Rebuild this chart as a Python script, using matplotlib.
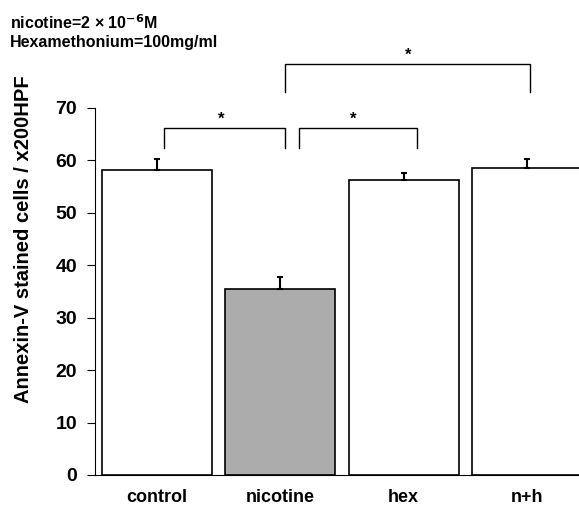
import numpy as np
import matplotlib.pyplot as plt

plt.rcParams['font.family'] = ['Liberation Sans', 'DejaVu Sans']
plt.rcParams['font.weight'] = 'bold'

groups = ['control', 'nicotine', 'hex', 'n+h']
means = [58.2, 35.5, 56.2, 58.5]
errs = [2.1, 2.3, 1.4, 1.8]
colors = ['white', '#acacac', 'white', 'white']

# significance brackets: (x start, x end, leg bottom, top)
brackets = [(0.06, 1.04, 62.4, 66.2), (1.15, 2.11, 62.4, 66.2), (1.04, 3.02, 73.0, 78.4)]
stars = [(0.52, 67.8), (1.59, 67.8), (2.04, 80.0)]

fig = plt.figure(figsize=(5.79, 5.09), dpi=100)
ax = fig.add_axes([0.164, 0.0668, 0.836, 0.7214])

x = np.arange(len(groups))
ax.bar(x, means, width=0.89, color=colors, edgecolor='black', linewidth=1.2,
       yerr=[[0] * len(errs), errs], capsize=2.5,
       error_kw=dict(ecolor='black', elinewidth=1.5, capthick=1.5))

for x0, x1, lo, hi in brackets:
    ax.plot([x0, x0, x1, x1], [lo, hi, hi, lo], color='black', lw=1.0, clip_on=False)
for sx, sy in stars:
    ax.text(sx, sy, '*', ha='center', va='center', fontsize=12, fontweight='bold', clip_on=False)

ax.set_xlim(-0.5, 3.42)
ax.set_ylim(0, 70)
ax.set_yticks(np.arange(0, 71, 10))
ax.set_xticks(x)
ax.set_xticklabels(groups, fontsize=13, fontweight='bold')
ax.tick_params(axis='x', length=0, pad=10)
ax.tick_params(axis='y', direction='out', length=6, labelsize=14, pad=7)
ax.spines['top'].set_visible(False)
ax.spines['right'].set_visible(False)
ax.set_ylabel('Annexin-V stained cells / x200HPF', fontsize=14.5, fontweight='bold')
ax.yaxis.set_label_coords(-0.128, 0.643)

fig.text(0.017, 0.955, 'nicotine=2 × 10$^{\\mathbf{-6}}$M', fontsize=11.5, fontweight='bold', va='center')
fig.text(0.017, 0.916, 'Hexamethonium=100mg/ml', fontsize=11.5, fontweight='bold', va='center')

fig.savefig('out.png', dpi=100)
